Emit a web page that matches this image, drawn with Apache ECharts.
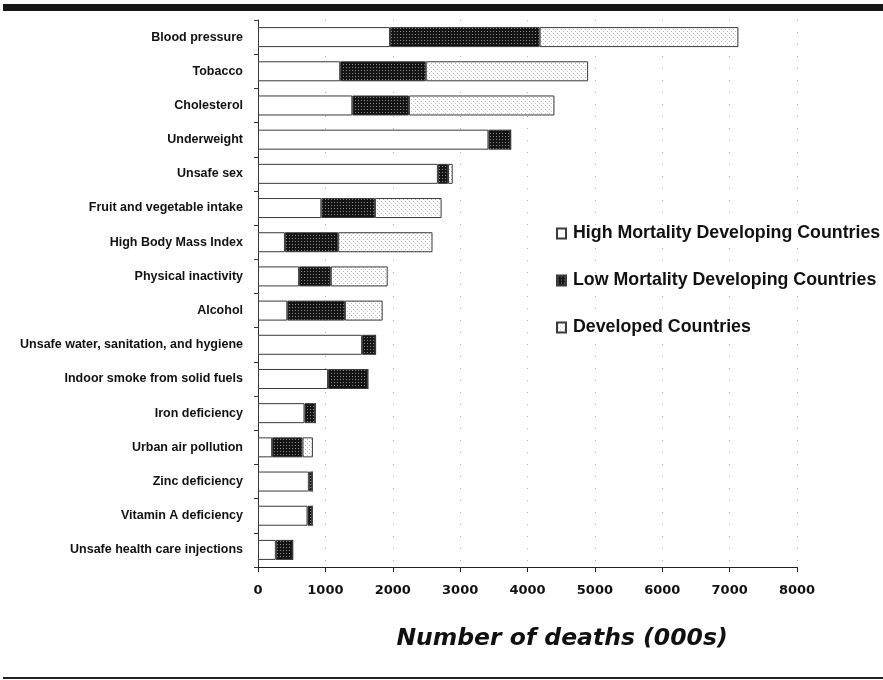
<!DOCTYPE html>
<html>
<head>
<meta charset="utf-8">
<script src="https://cdn.jsdelivr.net/npm/echarts@6/dist/echarts.min.js"></script>
<style>
html,body{margin:0;padding:0;background:#fff;}
#chart{width:883px;height:680px;}
</style>
</head>
<body>
<div id="chart"></div>
<script>
const categories = [
  'Blood pressure','Tobacco','Cholesterol','Underweight','Unsafe sex',
  'Fruit and vegetable intake','High Body Mass Index','Physical inactivity','Alcohol',
  'Unsafe water, sanitation, and hygiene','Indoor smoke from solid fuels','Iron deficiency',
  'Urban air pollution','Zinc deficiency','Vitamin A deficiency','Unsafe health care injections'
];
const highMortality = [1960,1220,1400,3420,2670,940,400,610,435,1545,1040,690,210,755,735,265];
const lowMortality  = [2220,1270,840,330,150,795,790,470,855,200,590,160,450,50,70,250];
const developed     = [2950,2410,2160,0,70,990,1400,845,560,0,0,0,155,0,0,0];
const xTicks = [0,1000,2000,3000,4000,5000,6000,7000,8000];
const seriesNames = ['High Mortality Developing Countries','Low Mortality Developing Countries','Developed Countries'];

function makePattern(bg, dot, size, dots) {
  const c = document.createElement('canvas');
  c.width = size; c.height = size;
  const ctx = c.getContext('2d');
  ctx.fillStyle = bg; ctx.fillRect(0,0,size,size);
  ctx.fillStyle = dot;
  dots.forEach(d => ctx.fillRect(d[0], d[1], 1, 1));
  return c;
}
const darkPat = makePattern('#141414', '#8a8a8a', 3, [[1,1]]);
const lightPat = makePattern('#ffffff', '#b5b5b5', 4, [[1,1],[3,3]]);

const font = '"Liberation Sans", Arial, sans-serif';
const chart = echarts.init(document.getElementById('chart'), null, {renderer:'canvas'});

const fills = ['#ffffff', {image: darkPat, repeat:'repeat'}, {image: lightPat, repeat:'repeat'}];
const dataArrays = [highMortality, lowMortality, developed];

chart.setOption({
  animation: false,
  backgroundColor: '#fff',
  grid: {left: 258, right: 86, top: 20, bottom: 113, containLabel: false},
  legend: {
    orient: 'vertical',
    left: 556, top: 224, padding: 0,
    itemWidth: 9, itemHeight: 10, itemGap: 28,
    icon: 'rect',
    data: seriesNames,
    textStyle: {fontFamily: font, fontWeight: 'bold', fontSize: 17.8, color: '#111', lineHeight: 19, padding: [0,0,0,2]}
  },
  xAxis: {
    type: 'value', min: xTicks[0], max: xTicks[xTicks.length-1], interval: 1000,
    axisLine: {show: true, lineStyle: {color: '#222', width: 1}},
    axisTick: {show: true, length: 5, lineStyle: {color: '#222'}},
    axisLabel: {margin: 17, fontFamily: '"DejaVu Sans", sans-serif', fontWeight: 'bold', fontSize: 13, color: '#111',
      formatter: v => String(v)},
    splitLine: {show: true, lineStyle: {color: '#b0b0b0', width: 1, type: [1, 11]}}
  },
  yAxis: {
    type: 'category', inverse: true, data: categories,
    axisLine: {show: true, lineStyle: {color: '#333', width: 1}},
    axisTick: {show: true, length: 4, lineStyle: {color: '#333'}},
    axisLabel: {margin: 15, fontFamily: font, fontWeight: 'bold', fontSize: 12.5, color: '#111'}
  },
  series: seriesNames.map((n, i) => ({
    name: n, type: 'bar', stack: 'total', barWidth: 20,
    data: dataArrays[i],
    itemStyle: {color: fills[i], borderColor: '#3a3a3a', borderWidth: 1},
    emphasis: {disabled: true}
  })),
  graphic: [
    {type: 'rect', shape: {x: 3, y: 4, width: 880, height: 7}, style: {fill: '#161616'}},
    {type: 'rect', shape: {x: 3, y: 677, width: 880, height: 2}, style: {fill: '#222'}},
    {type: 'text', x: 562, y: 639, style: {text: 'Number of deaths (000s)', font: 'italic bold 23.5px "DejaVu Sans", sans-serif', fill: '#111', textAlign: 'center', textVerticalAlign: 'middle'}}
  ]
});
</script>
</body>
</html>
